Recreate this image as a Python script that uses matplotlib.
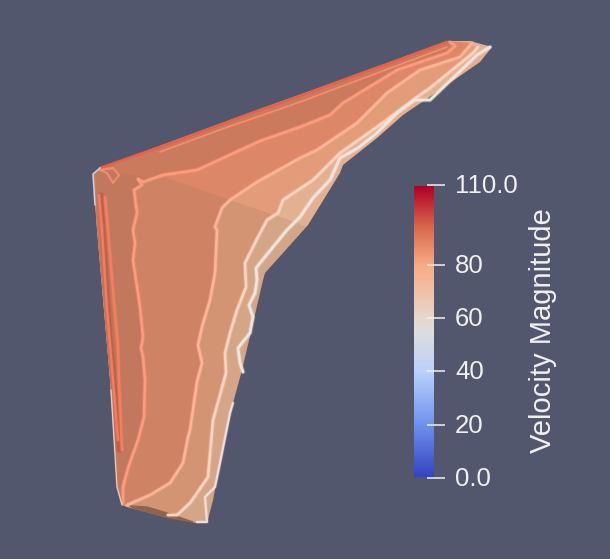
import numpy as np
import matplotlib
matplotlib.use("Agg")
import matplotlib.pyplot as plt
from matplotlib.colors import LinearSegmentedColormap
from matplotlib.patches import Polygon

BG = "#52576E"
cbar_title = "Velocity Magnitude"
tick_values = [0, 20, 40, 60, 80, 110]
tick_labels = ["0.0", "20", "40", "60", "80", "110.0"]
cmap_stops = [0, 20, 40, 55, 60, 80, 95, 110]
cmap_colors = ["#3543BE", "#6F93F0", "#BCD2FA", "#DDDDDD", "#E6D8CC", "#F9AC85", "#D9654A", "#B00026"]

# wing geometry (screen pixels)
leading_x = [447, 393, 327, 260, 100, 93, 97, 110, 117, 122]
leading_y = [41, 61, 85, 109, 168, 174, 230, 380, 487, 505]
trailing_x = [127, 165, 197, 207, 213, 220, 233, 242, 253, 263, 265, 308, 340, 343, 353, 377, 403, 428, 480, 492, 470]
trailing_y = [507, 517, 523, 523, 500, 463, 403, 370, 323, 280, 273, 225, 173, 165, 157, 138, 115, 98, 62, 47, 41]
crease_x = [96, 145, 167, 230, 295, 308, 340, 300, 200, 100]
crease_y = [168, 178, 178, 200, 222, 227, 300, 560, 560, 560]
under_x = [130, 147, 167, 193, 165, 133]
under_y = [506, 507, 513, 522, 517, 508]

dark_x = [101, 105, 110, 116, 119]
dark_y = [195, 260, 335, 400, 450]
c0a_x = [99, 102, 107, 113, 118]
c0a_y = [195, 230, 310, 380, 440]
c0b_x = [105, 108, 113, 118, 119, 122]
c0b_y = [197, 230, 290, 347, 380, 450]
c0t_x = [100, 160, 225, 260, 300, 373, 393, 447]
c0t_y = [168, 147, 123, 110, 96, 69, 62, 42]
c0p_x = [160, 225, 260, 300, 388, 447]
c0p_y = [152, 128, 116, 102, 69, 47]
c1_x = [123, 123, 128, 138, 144, 145, 143, 141, 143, 140, 133, 135, 133, 137, 134, 142, 138, 143, 163, 197, 260, 300, 330, 343, 397, 447, 455, 450]
c1_y = [503, 487, 468, 440, 417, 380, 357, 348, 337, 307, 260, 243, 230, 213, 190, 185, 179, 182, 175, 170, 141, 127, 115, 103, 70, 53, 46, 42]
c2_x = [127, 150, 170, 183, 188, 190, 197, 202, 198, 202, 210, 215, 217, 215, 222, 230, 257, 300, 317, 357, 387, 420, 460, 472]
c2_y = [505, 495, 483, 463, 437, 430, 382, 363, 345, 327, 300, 273, 230, 227, 208, 200, 182, 158, 150, 123, 93, 70, 57, 43]
c3_x = [168, 177, 190, 197, 208, 213, 220, 226, 225, 230, 237, 246, 245, 258, 267, 278, 283, 313, 340, 377, 400, 417, 430, 473, 478]
c3_y = [515, 515, 503, 493, 477, 420, 395, 373, 353, 333, 310, 287, 263, 237, 220, 213, 200, 180, 153, 127, 110, 97, 88, 53, 47]
c4_x = [243, 240, 238, 250, 253, 249, 255, 257, 256, 273, 287, 300, 313, 330, 340, 358, 377, 397, 415, 430, 477, 490]
c4_y = [372, 363, 348, 333, 317, 305, 293, 280, 268, 247, 230, 217, 198, 180, 158, 148, 133, 113, 100, 100, 55, 47]
c5_x = [233, 230, 220, 215, 205, 207, 197]
c5_y = [403, 413, 463, 487, 497, 522, 522]
edge3_x = [111, 117, 122]
edge3_y = [390, 487, 505]
edge4_x = [100, 93, 95]
edge4_y = [168, 174, 205]
loop_x = [100, 113, 119, 113, 107, 100]
loop_y = [170, 168, 175, 183, 173, 170]

contours = [(c1_x, c1_y), (c2_x, c2_y), (c3_x, c3_y)]
band_colors = ["#CC7A5D", "#DC8767", "#E29C7A", "#E4B092"]
line_colors = ["#FB9C7E", "#FDB498", "#FCD3BE"]
line_widths = [1.9, 1.9, 1.9]

fig = plt.figure(figsize=(6.1, 5.59), dpi=100, facecolor=BG)
ax = fig.add_axes([0, 0, 1, 1], facecolor=BG)
ax.set_xlim(0, 610)
ax.set_ylim(559, 0)
ax.axis("off")

outline = np.column_stack([leading_x + trailing_x, leading_y + trailing_y])
wing = Polygon(outline, closed=True, fc=band_colors[-1], ec="none", zorder=1)
ax.add_patch(wing)

lead = np.column_stack([leading_x, leading_y])
for i in range(len(contours) - 1, -1, -1):
    cx, cy = contours[i]
    poly = Polygon(np.vstack([np.column_stack([cx, cy]), lead]), closed=True,
                   fc=band_colors[i], ec="none", zorder=2)
    ax.add_patch(poly)
    poly.set_clip_path(wing)

shade = Polygon(np.column_stack([crease_x, crease_y]), closed=True, fc="#8A7058", alpha=0.16, ec="none", zorder=3)
ax.add_patch(shade)
shade.set_clip_path(wing)
ax.fill(under_x, under_y, color="#8E6450", zorder=4)


def soft(x, y, col, lw, z=5):
    kw = dict(solid_capstyle="round", solid_joinstyle="round", color=col, zorder=z)
    ax.plot(x, y, lw=lw * 1.7, alpha=0.3, **kw)
    ax.plot(x, y, lw=lw, **kw)


soft(dark_x, dark_y, "#B8614A", 3.0, z=4.5)
soft(c0a_x, c0a_y, "#F67C5E", 1.6)
soft(c0b_x, c0b_y, "#F57E60", 1.8)
soft(c0t_x, c0t_y, "#EC5F45", 1.5)
soft(c0p_x, c0p_y, "#F58F70", 1.0)
soft(loop_x, loop_y, "#F28F70", 1.2)
for (cx, cy), col, lw in zip(contours, line_colors, line_widths):
    soft(cx, cy, col, lw)
soft(c4_x, c4_y, "#EEE5DC", 2.0)
soft(c5_x, c5_y, "#EEE0D6", 1.5)
soft(edge3_x, edge3_y, "#E8CDBC", 0.8)
soft(edge4_x, edge4_y, "#C9D6EA", 0.9)

# colour bar
stops = np.array(cmap_stops, dtype=float) / max(cmap_stops)
cmap = LinearSegmentedColormap.from_list("vel", list(zip(stops, cmap_colors)), N=256)
grad = np.linspace(0, 110, 256).reshape(-1, 1)
ax.imshow(grad, cmap=cmap, vmin=0, vmax=110, origin="lower", aspect="auto",
          extent=[413.5, 433, 477, 186], zorder=6, interpolation="bilinear")
ax.set_xlim(0, 610)
ax.set_ylim(559, 0)
ypos = np.interp(tick_values, [0, 110], [478, 185])
for v, lab, y in zip(tick_values, tick_labels, ypos):
    ax.plot([427, 445], [y, y], color="#F2F2F2", lw=1.1, zorder=7, solid_capstyle="butt")
    ax.text(455, y + 1, lab, color="#F0F0F0", fontsize=18.5, family="Liberation Sans",
            va="center", ha="left", zorder=7)
ax.text(543, 331, cbar_title, color="#F0F0F0", fontsize=21, family="Liberation Sans",
        rotation=90, ha="center", va="center", zorder=7)

fig.savefig("out.png", dpi=100, facecolor=BG)
